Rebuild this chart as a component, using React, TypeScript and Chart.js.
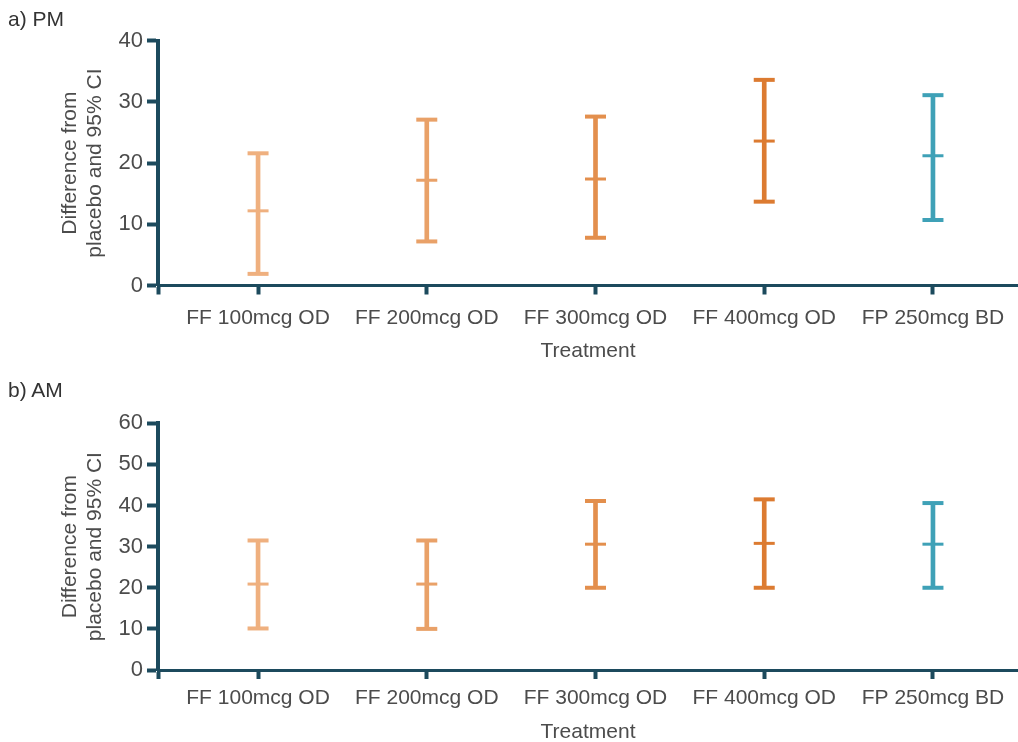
import { useEffect, useRef } from 'react';
import { Chart, registerables } from 'chart.js';

Chart.register(...registerables);

// Treatment arms (x axis) and the colour used for each arm
const categories = ['FF 100mcg OD', 'FF 200mcg OD', 'FF 300mcg OD', 'FF 400mcg OD', 'FP 250mcg BD'];
const categoryColors = ['#EFB07F', '#E9A168', '#E38F4D', '#DC7B31', '#3FA1B7'];

// a) PM: difference from placebo with 95% CI
const pmMean = [12.2, 17.2, 17.4, 23.6, 21.2];
const pmLower = [1.9, 7.2, 7.8, 13.7, 10.7];
const pmUpper = [21.6, 27.1, 27.6, 33.6, 31.1];
const pmTicks = [0, 10, 20, 30, 40];

// b) AM: difference from placebo with 95% CI
const amMean = [20.9, 20.9, 30.6, 30.8, 30.6];
const amLower = [10.1, 10.0, 20.0, 20.0, 20.0];
const amUpper = [31.5, 31.5, 41.1, 41.5, 40.6];
const amTicks = [0, 10, 20, 30, 40, 50, 60];

const AXIS = '#1C4A5D';
const TEXT = '#4C4C4C';
const FONT = 'Arial, "Liberation Sans", sans-serif';
const W = 1018;
const H = 371;
const X_MIN = -0.593;
const X_MAX = 4.504;

type PanelProps = {
  top: number;
  label: string;
  mean: number[];
  lower: number[];
  upper: number[];
  yTicks: number[];
  areaTop: number;
  areaBottom: number;
  labelPad: number;
  titlePad: number;
};

function capDataset(values: number[], width: number) {
  return {
    type: 'line' as const,
    data: values.map((v, i) => ({ x: i, y: v })),
    showLine: false,
    clip: false,
    pointStyle: 'line' as const,
    pointRadius: 10.5,
    pointHoverRadius: 10.5,
    pointBorderWidth: width,
    pointHoverBorderWidth: width,
    pointBorderColor: categoryColors,
    pointBackgroundColor: categoryColors,
  };
}

function ErrorPanel({ top, label, mean, lower, upper, yTicks, areaTop, areaBottom, labelPad, titlePad }: PanelProps) {
  const canvasRef = useRef<HTMLCanvasElement | null>(null);

  useEffect(() => {
    const canvas = canvasRef.current;
    if (!canvas) return;
    const idx = categories.map((_, i) => i);
    const chart = new Chart(canvas, {
      type: 'bar',
      data: {
        datasets: [
          {
            type: 'bar',
            data: idx.map((i) => ({ x: i, y: [lower[i], upper[i]] })) as any,
            backgroundColor: categoryColors,
            barThickness: 4,
            borderWidth: 0,
          },
          capDataset(lower, 4) as any,
          capDataset(mean, 3) as any,
          capDataset(upper, 4) as any,
        ],
      },
      options: {
        responsive: false,
        animation: false,
        layout: { autoPadding: false, padding: { top: areaTop, left: 0, right: 0, bottom: 0 } },
        plugins: { legend: { display: false }, tooltip: { enabled: false } },
        scales: {
          x: {
            type: 'linear',
            min: X_MIN,
            max: X_MAX,
            offset: false,
            afterBuildTicks: (s: any) => {
              s.ticks = [X_MIN, ...idx].map((v) => ({ value: v }));
            },
            afterFit: (s: any) => {
              s.height = H - areaBottom;
              s.paddingLeft = 0;
              s.paddingRight = 0;
            },
            ticks: {
              autoSkip: false,
              maxRotation: 0,
              color: TEXT,
              font: { family: FONT, size: 21 },
              padding: labelPad,
              callback: (_v: any, i: number) => (i === 0 ? '' : categories[i - 1]),
            },
            grid: {
              drawOnChartArea: false,
              drawTicks: true,
              tickLength: 9,
              tickWidth: 4,
              tickColor: AXIS,
              offset: false,
            },
            border: { display: true, color: AXIS, width: 3 },
            title: {
              display: true,
              text: 'Treatment',
              color: TEXT,
              font: { family: FONT, size: 21 },
              padding: { top: 0, bottom: titlePad },
            },
          },
          y: {
            type: 'linear',
            min: yTicks[0],
            max: yTicks[yTicks.length - 1],
            afterBuildTicks: (s: any) => {
              s.ticks = yTicks.map((v) => ({ value: v }));
            },
            afterFit: (s: any) => {
              s.width = 158;
            },
            ticks: {
              color: TEXT,
              font: { family: FONT, size: 22 },
              padding: 4,
            },
            grid: {
              drawOnChartArea: false,
              drawTicks: true,
              tickLength: 11,
              tickWidth: 4,
              tickColor: AXIS,
            },
            border: { display: true, color: AXIS, width: 4 },
            title: {
              display: true,
              text: ['Difference from', 'placebo and 95% CI'],
              color: TEXT,
              font: { family: FONT, size: 21, lineHeight: '25px' },
              padding: { top: 57.5, bottom: 0 },
            },
          },
        },
      } as any,
    });
    return () => chart.destroy();
  }, [mean, lower, upper, yTicks, areaTop, areaBottom, labelPad, titlePad]);

  return (
    <div style={{ position: 'absolute', left: 0, top, width: W, height: H }}>
      <canvas ref={canvasRef} width={W} height={H} style={{ display: 'block', width: W, height: H }} />
      <div
        style={{
          position: 'absolute',
          left: 8,
          top: 7,
          fontFamily: FONT,
          fontSize: 21,
          color: '#333333',
          whiteSpace: 'nowrap',
        }}
      >
        {label}
      </div>
    </div>
  );
}

export default function App() {
  return (
    <div style={{ position: 'absolute', left: 0, top: 0, width: W, height: 742, overflow: 'hidden', background: '#ffffff' }}>
      <ErrorPanel
        top={0}
        label="a) PM"
        mean={pmMean}
        lower={pmLower}
        upper={pmUpper}
        yTicks={pmTicks}
        areaTop={40.7}
        areaBottom={285.5}
        labelPad={11}
        titlePad={7}
      />
      <ErrorPanel
        top={371}
        label="b) AM"
        mean={amMean}
        lower={amLower}
        upper={amUpper}
        yTicks={amTicks}
        areaTop={52.3}
        areaBottom={299}
        labelPad={7}
        titlePad={-3}
      />
    </div>
  );
}
